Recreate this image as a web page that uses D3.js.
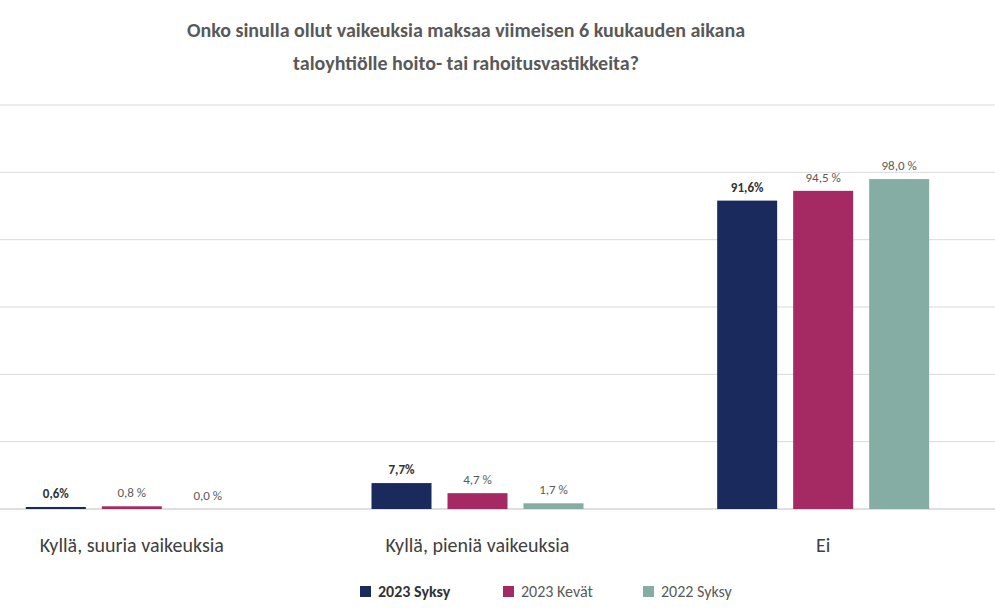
<!DOCTYPE html>
<html><head><meta charset="utf-8">
<script src="https://cdn.jsdelivr.net/npm/d3@7"></script>
<style>body{margin:0;background:#fff;font-family:Calibri,Carlito,"Liberation Sans",sans-serif}</style>
</head><body>
<script>
var categories = ["Kyllä, suuria vaikeuksia", "Kyllä, pieniä vaikeuksia", "Ei"];
var seriesNames = ["2023 Syksy", "2023 Kevät", "2022 Syksy"];
var syksy2023 = [0.6, 7.7, 91.6];
var kevat2023 = [0.8, 4.7, 94.5];
var syksy2022 = [0.0, 1.7, 98.0];
var labels2023s = ["0,6%", "7,7%", "91,6%"];
var labels2023k = ["0,8 %", "4,7 %", "94,5 %"];
var labels2022s = ["0,0 %", "1,7 %", "98,0 %"];
var yTicks = [0, 20, 40, 60, 80, 100, 120];
var colors = ["#1b2a5c", "#a52a63", "#86ada4"];

var series = [syksy2023, kevat2023, syksy2022];
var labels = [labels2023s, labels2023k, labels2022s];

var svg = d3.select("body").append("svg").attr("width", 995).attr("height", 616);

svg.append("text").attr("x", 466).attr("y", 37).attr("text-anchor", "middle")
  .attr("font-size", 20).attr("font-weight", "bold").attr("fill", "#595959")
  .text("Onko sinulla ollut vaikeuksia maksaa viimeisen 6 kuukauden aikana");
svg.append("text").attr("x", 466).attr("y", 70).attr("text-anchor", "middle")
  .attr("font-size", 20).attr("font-weight", "bold").attr("fill", "#595959")
  .text("taloyhtiölle hoito- tai rahoitusvastikkeita?");

var y = d3.scaleLinear().domain([0, 120]).range([509, 105]);
var x = d3.scaleBand().domain(categories).range([-41, 996]);
var xs = d3.scalePoint().domain([0, 1, 2]).range([-76, 76]);

svg.selectAll("line.grid").data(yTicks).enter().append("line")
  .attr("x1", 0).attr("x2", 995)
  .attr("y1", function(d){ return y(d); }).attr("y2", function(d){ return y(d); })
  .attr("stroke", function(d){ return d === 0 ? "#bfbfbf" : "#d9d9d9"; });

series.forEach(function(vals, si){
  var g = svg.selectAll("g.s" + si).data(categories).enter().append("g");
  g.append("rect")
    .attr("x", function(d){ return x(d) + x.bandwidth()/2 + xs(si) - 30; })
    .attr("width", 60)
    .attr("y", function(d, i){ return y(vals[i]); })
    .attr("height", function(d, i){ return y(0) - y(vals[i]); })
    .attr("fill", colors[si]);
  g.append("text")
    .attr("x", function(d){ return x(d) + x.bandwidth()/2 + xs(si); })
    .attr("y", function(d, i){ return y(vals[i]) - 9; })
    .attr("text-anchor", "middle").attr("font-size", 13)
    .attr("font-weight", si === 0 ? "bold" : "normal")
    .attr("fill", si === 0 ? "#333" : "#595959")
    .text(function(d, i){ return labels[si][i]; });
});

svg.selectAll("text.cat").data(categories).enter().append("text")
  .attr("x", function(d){ return x(d) + x.bandwidth()/2; })
  .attr("y", 552).attr("text-anchor", "middle").attr("font-size", 20)
  .attr("fill", "#404040").text(function(d){ return d; });

var legX = [360, 503, 643];
seriesNames.forEach(function(n, i){
  svg.append("rect").attr("x", legX[i]).attr("y", 586).attr("width", 11).attr("height", 11).attr("fill", colors[i]);
  svg.append("text").attr("x", legX[i] + 18).attr("y", 597).attr("font-size", 16)
    .attr("font-weight", i === 0 ? "bold" : "normal")
    .attr("fill", i === 0 ? "#333" : "#595959").text(n);
});
</script>
</body></html>
